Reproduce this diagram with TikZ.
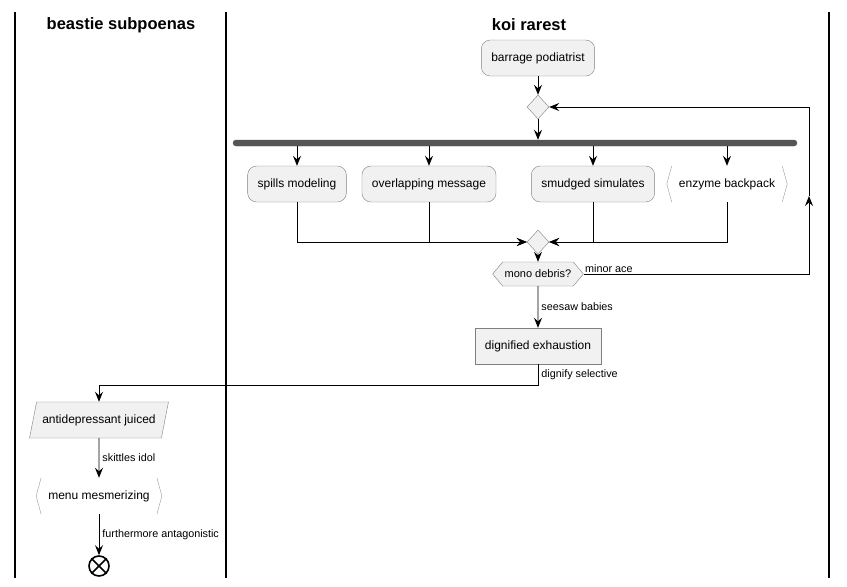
\documentclass[tikz,border=0pt]{standalone}
\usepackage{fontspec}
\setmainfont{Liberation Sans}
\usetikzlibrary{shapes.geometric,shapes.symbols,arrows.meta}
\definecolor{actfill}{HTML}{F1F1F1}
\definecolor{actline}{HTML}{7F7F7F}
\definecolor{barfill}{HTML}{555555}
\begin{document}
\begin{tikzpicture}[x=1pt,y=-1pt,
  act/.style={draw=actline,fill=actfill,rounded corners=9pt,minimum height=36pt,inner xsep=10pt,font=\fontsize{12}{14}\selectfont},
  rect/.style={act,sharp corners},
  knot/.style={diamond,draw=actline,fill=actfill,minimum width=22pt,minimum height=24pt,inner sep=0pt},
  cond/.style={signal,signal to=west and east,signal pointer angle=100,draw=actline,fill=actfill,minimum width=90pt,minimum height=24pt,inner xsep=2pt,inner ysep=1pt,font=\fontsize{11}{13}\selectfont},
  slant/.style={trapezium,trapezium left angle=70,trapezium right angle=110,trapezium stretches=true,draw=actline,fill=actfill,minimum height=36pt,minimum width=139pt,inner xsep=1pt,font=\fontsize{12}{14}\selectfont},
  chev/.style={minimum height=36pt,inner xsep=12pt,font=\fontsize{12}{14}\selectfont},
  chevline/.style={draw=actline!80},
  forkbar/.style={draw=barfill,fill=barfill,rounded corners=3pt,minimum width=564pt,minimum height=6pt,inner sep=0pt},
  fin/.style={circle,draw,line width=1.6pt,fill=white,minimum size=20pt,inner sep=0pt},
  lbl/.style={font=\fontsize{10.8}{12}\selectfont,inner sep=3pt},
  lane/.style={line width=1.3pt},
  head/.style={font=\bfseries\fontsize{16.5}{19}\selectfont},
  arr/.style={line width=0.9pt,-{Stealth[length=10pt,width=8pt,inset=3.5pt]}}]
\useasboundingbox (0,0) rectangle (847,587);

\draw[lane] (15,12) -- (15,578);
\draw[lane] (226,12) -- (226,578);
\draw[lane] (829,12) -- (829,578);
\node[head] (h1) at (121,25) {beastie subpoenas};
\node[head] (h2) at (529,25) {koi rarest};

\node[act] (start) at (538,58) {barrage podiatrist};
\node[knot] (m1) at (538,107) {};
\node[forkbar] (fork) at (515,143) {};
\node[act] (s1) at (297,184) {spills modeling};
\node[act] (s2) at (429,184) {overlapping message};
\node[act] (s3) at (593,184) {smudged simulates};
\node[chev] (s4) at (727,184) {enzyme backpack};
\node[knot] (m2) at (538,242) {};
\node[cond] (q) at (538,274) {mono debris?};
\node[rect] (dig) at (538,346) {dignified exhaustion};
\node[slant] (par) at (99,420) {antidepressant juiced};
\node[chev] (mm) at (99,496) {menu mesmerizing};
\node[fin] (end) at (99,566) {};
\draw[line width=1.6pt] (end.45) -- (end.225) (end.135) -- (end.315);

\foreach \n in {s4,mm}
  \draw[chevline] ([xshift=5pt]\n.north west) -- (\n.west) -- ([xshift=5pt]\n.south west)
                  ([xshift=-5pt]\n.north east) -- (\n.east) -- ([xshift=-5pt]\n.south east);

\coordinate (r1) at (809,274);
\coordinate (rm) at (809,196);
\coordinate (r2) at (809,107);

\draw[arr] (start) -- (m1);
\draw[arr] (m1) -- (m1 |- fork.north);
\foreach \n in {s1,s2,s3,s4}
  \draw[arr] (\n |- fork.south) -- (\n);
\foreach \n in {s1,s2,s3,s4}
  \draw[arr] (\n) |- (m2);
\draw[arr] (m2) -- (q);
\draw[arr] (q.east) node[lbl,anchor=south west,inner sep=1pt] {minor ace} -- (r1) -- (rm);
\draw[arr] (rm) -- (r2) -- (m1);
\draw[arr] (q) -- node[lbl,right] {seesaw babies} (dig);
\draw[arr] (dig.south) -- node[lbl,right] {dignify selective} ++(0,21) -| (par);
\draw[arr] (par) -- node[lbl,right] {skittles idol} (mm);
\draw[arr] (mm) -- node[lbl,right] {furthermore antagonistic} (end);

\end{tikzpicture}
\end{document}
